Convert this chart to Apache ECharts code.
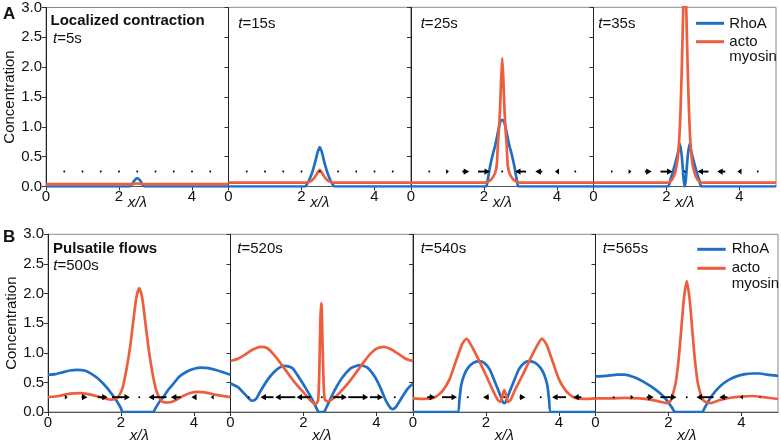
<!DOCTYPE html>
<html><head><meta charset="utf-8">
<script src="https://cdn.jsdelivr.net/npm/echarts@6/dist/echarts.min.js"></script>
<style>html,body{margin:0;padding:0;background:#fff}#c{width:781px;height:444px}</style>
</head><body><div id="c"></div>
<script>
// ---------- data ----------
const xTicks = [0, 2, 4];
const quiverX = [0.5, 1, 1.5, 2, 2.5, 3, 3.5, 4, 4.5];
const quiverY = 0.25;
const timeLabels = ['5s', '15s', '25s', '35s', '500s', '520s', '540s', '565s'];

// RhoA profiles (x/λ, concentration)
const rhoA_5 = [[0,0],[2.3,0],[2.36,0.04],[2.42,0.1],[2.5,0.14],[2.58,0.1],[2.64,0.04],[2.7,0],[5,0]];
const rhoA_15 = [[0,0],[2.1,0],[2.16,0.05],[2.22,0.12],[2.3,0.25],[2.38,0.42],[2.44,0.57],[2.5,0.66],[2.56,0.57],[2.62,0.42],[2.7,0.25],[2.78,0.12],[2.84,0.05],[2.9,0],[5,0]];
const rhoA_25 = [[0,0],[2.05,0],[2.1,0.1],[2.15,0.28],[2.2,0.43],[2.25,0.56],[2.3,0.67],[2.37,0.87],[2.42,1.02],[2.46,1.1],[2.5,1.11],[2.54,1.1],[2.58,1.02],[2.63,0.87],[2.7,0.67],[2.75,0.56],[2.8,0.43],[2.85,0.28],[2.9,0.1],[2.95,0],[5,0]];
const rhoA_35 = [[0,0],[2.04,0],[2.1,0.1],[2.2,0.3],[2.3,0.53],[2.37,0.71],[2.42,0.5],[2.47,0.12],[2.5,0],[2.53,0.12],[2.58,0.5],[2.63,0.71],[2.7,0.53],[2.8,0.3],[2.9,0.1],[2.96,0],[5,0]];
const rhoA_500 = [[0,0.63],[0.2,0.64],[0.4,0.67],[0.6,0.7],[0.8,0.71],[1.0,0.7],[1.2,0.64],[1.4,0.55],[1.6,0.42],[1.8,0.26],[1.9,0.17],[2.0,0.06],[2.04,0],[2.88,0],[2.94,0.06],[3.05,0.17],[3.17,0.26],[3.3,0.38],[3.44,0.48],[3.6,0.6],[3.8,0.68],[4.0,0.73],[4.2,0.75],[4.4,0.74],[4.6,0.71],[4.8,0.67],[5.0,0.63]];
const rhoA_520 = [[0,0.48],[0.2,0.42],[0.35,0.33],[0.5,0.23],[0.6,0.19],[0.7,0.22],[0.8,0.33],[1.0,0.53],[1.2,0.68],[1.4,0.77],[1.5,0.78],[1.7,0.74],[1.9,0.56],[2.1,0.36],[2.25,0.2],[2.35,0.07],[2.42,0],[2.56,0],[2.63,0.08],[2.75,0.24],[2.9,0.42],[3.05,0.57],[3.3,0.74],[3.55,0.79],[3.75,0.75],[3.95,0.6],[4.1,0.42],[4.25,0.2],[4.38,0.07],[4.45,0.05],[4.55,0.1],[4.7,0.25],[4.85,0.39],[5.0,0.48]];
const rhoA_540 = [[0,0],[1.22,0],[1.27,0.2],[1.32,0.45],[1.4,0.62],[1.5,0.74],[1.65,0.83],[1.82,0.86],[1.95,0.83],[2.1,0.72],[2.25,0.5],[2.38,0.3],[2.46,0.17],[2.5,0.15],[2.54,0.17],[2.62,0.3],[2.75,0.5],[2.9,0.72],[3.05,0.83],[3.18,0.86],[3.35,0.83],[3.5,0.74],[3.6,0.62],[3.68,0.45],[3.73,0.2],[3.78,0],[5,0]];
const rhoA_565 = [[0,0.6],[0.3,0.61],[0.6,0.63],[0.8,0.63],[1.0,0.6],[1.2,0.55],[1.4,0.48],[1.6,0.4],[1.8,0.3],[1.95,0.2],[2.1,0.07],[2.18,0],[2.92,0],[3.0,0.08],[3.15,0.24],[3.3,0.36],[3.5,0.48],[3.7,0.56],[3.9,0.61],[4.1,0.64],[4.3,0.65],[4.5,0.65],[4.7,0.63],[5.0,0.61]];

// actomyosin profiles
const myo_5 = [[0,0.04],[2.3,0.04],[2.5,0.05],[2.7,0.04],[5,0.04]];
const myo_15 = [[0,0.064],[2.1,0.064],[2.2,0.075],[2.3,0.11],[2.4,0.19],[2.46,0.25],[2.5,0.28],[2.54,0.25],[2.6,0.19],[2.7,0.11],[2.8,0.075],[2.9,0.064],[5,0.064]];
const myo_25 = [[0,0.064],[2.0,0.066],[2.1,0.08],[2.2,0.12],[2.3,0.22],[2.35,0.36],[2.38,0.7],[2.42,1.05],[2.45,1.45],[2.47,1.8],[2.5,2.15],[2.53,1.8],[2.55,1.45],[2.58,1.05],[2.62,0.7],[2.65,0.36],[2.7,0.22],[2.8,0.12],[2.9,0.08],[3.0,0.066],[5,0.064]];
const myo_35 = [[0,0.064],[2.0,0.066],[2.1,0.08],[2.2,0.17],[2.28,0.35],[2.34,0.7],[2.38,1.2],[2.42,2.0],[2.46,3.0],[2.5,3.7],[2.54,3.0],[2.58,2.0],[2.62,1.2],[2.66,0.7],[2.72,0.35],[2.8,0.17],[2.9,0.08],[3.0,0.066],[5,0.064]];
const myo_500 = [[0,0.25],[0.3,0.27],[0.6,0.31],[0.9,0.32],[1.2,0.29],[1.5,0.24],[1.7,0.21],[1.85,0.22],[1.95,0.28],[2.05,0.42],[2.15,0.72],[2.25,1.1],[2.35,1.6],[2.42,1.93],[2.5,2.09],[2.58,1.93],[2.65,1.6],[2.75,1.1],[2.85,0.7],[2.95,0.4],[3.05,0.24],[3.15,0.17],[3.3,0.16],[3.5,0.2],[3.7,0.27],[3.9,0.32],[4.1,0.34],[4.3,0.33],[4.6,0.29],[5.0,0.25]];
const myo_520 = [[0,0.86],[0.2,0.9],[0.4,0.97],[0.6,1.05],[0.82,1.1],[1.0,1.08],[1.2,0.96],[1.4,0.8],[1.6,0.63],[1.8,0.47],[2.0,0.33],[2.1,0.26],[2.2,0.19],[2.33,0.13],[2.4,0.2],[2.43,0.6],[2.46,1.5],[2.48,1.84],[2.5,1.75],[2.52,1.2],[2.55,0.5],[2.58,0.22],[2.65,0.18],[2.75,0.2],[2.9,0.27],[3.0,0.33],[3.2,0.47],[3.4,0.63],[3.6,0.8],[3.8,0.96],[4.0,1.07],[4.2,1.1],[4.4,1.06],[4.6,0.98],[4.8,0.9],[5.0,0.86]];
const myo_540 = [[0,0.23],[0.3,0.22],[0.6,0.25],[0.8,0.35],[1.0,0.55],[1.2,0.9],[1.35,1.15],[1.47,1.24],[1.6,1.12],[1.8,0.88],[2.0,0.62],[2.2,0.35],[2.33,0.2],[2.4,0.17],[2.45,0.28],[2.5,0.37],[2.55,0.28],[2.6,0.17],[2.67,0.2],[2.8,0.38],[3.0,0.62],[3.2,0.88],[3.4,1.12],[3.53,1.24],[3.65,1.15],[3.8,0.9],[4.0,0.55],[4.2,0.35],[4.4,0.25],[4.7,0.22],[5.0,0.23]];
const myo_565 = [[0,0.23],[0.4,0.23],[0.8,0.24],[1.2,0.23],[1.5,0.21],[1.8,0.17],[1.95,0.15],[2.05,0.18],[2.12,0.3],[2.2,0.5],[2.28,0.9],[2.35,1.4],[2.42,1.9],[2.5,2.21],[2.58,1.9],[2.65,1.4],[2.72,0.9],[2.8,0.5],[2.88,0.3],[2.95,0.2],[3.05,0.16],[3.15,0.15],[3.4,0.2],[3.7,0.24],[4.0,0.26],[4.3,0.27],[4.6,0.25],[5.0,0.22]];

// flow arrows: displacement (x/λ units) at quiverX
const flow_5 = [0,0,0,0,0,0,0,0,0];
const flow_15 = [0,0,0,0,0,0,0,0,0];
const flow_25 = [0,0.08,0.19,0.33,0,-0.30,-0.19,-0.11,0];
const flow_35 = [0,0.08,0.19,0.33,0,-0.30,-0.22,-0.11,0];
const flow_500 = [0.08,0.16,0.27,0.49,0,-0.49,-0.27,-0.14,-0.08];
const flow_520 = [0,-0.36,-0.55,-0.38,0,0.38,0.55,0.36,0];
const flow_540 = [0.22,0.41,0,-0.16,0,0.16,0,-0.38,-0.22];
const flow_565 = [0,0.08,0.19,0.44,0,-0.47,-0.22,-0.08,-0.03];

const rhoSets = [rhoA_5, rhoA_15, rhoA_25, rhoA_35, rhoA_500, rhoA_520, rhoA_540, rhoA_565];
const myoSets = [myo_5, myo_15, myo_25, myo_35, myo_500, myo_520, myo_540, myo_565];
const flowSets = [flow_5, flow_15, flow_25, flow_35, flow_500, flow_520, flow_540, flow_565];

// ---------- layout / style ----------
const BLUE = '#1f6fc6', ORANGE = '#ee5e3c';
const FONT = 'Liberation Sans, Arial, sans-serif';
const gridPos = [
  [46, 7.3, 182.5, 179.2], [228.5, 7.3, 182.5, 179.2], [411, 7.3, 182.5, 179.2], [593.5, 7.3, 182.5, 179.2],
  [48, 234.3, 182.5, 177.7], [230.5, 234.3, 182.5, 177.7], [413, 234.3, 182.5, 177.7], [595.5, 234.3, 182.5, 177.7]
];

function renderArrow(params, api) {
  const x = api.value(0), y = api.value(1), u = api.value(2);
  const p0 = api.coord([x - u / 2, y]);
  const p1 = api.coord([x + u / 2, y]);
  const len = Math.abs(p1[0] - p0[0]);
  const cy = p0[1];
  if (len < 1) {
    return {type: 'circle', shape: {cx: (p0[0] + p1[0]) / 2, cy: cy, r: 1}, style: {fill: '#000'}};
  }
  const dir = Math.sign(p1[0] - p0[0]);
  const hl = Math.min(5.5, len);
  const hw = 3.1 * Math.min(1, len / 5.5 + 0.25);
  const tip = p1[0], base = tip - dir * hl;
  const children = [];
  if (len > hl) children.push({type: 'line', shape: {x1: p0[0], y1: cy, x2: base + dir * 0.5, y2: cy}, style: {stroke: '#000', lineWidth: 1.9}});
  children.push({type: 'polygon', shape: {points: [[tip, cy], [base, cy - hw], [base, cy + hw]]}, style: {fill: '#000'}});
  return {type: 'group', children: children};
}

const grids = [], xAxes = [], yAxes = [], series = [];
gridPos.forEach((g, i) => {
  const rowB = i >= 4;
  grids.push({left: g[0], top: g[1], width: g[2], height: g[3], show: true, borderColor: '#8a8a8a', borderWidth: 1, backgroundColor: 'transparent'});
  xAxes.push({
    type: 'value', gridIndex: i, min: 0, max: 5, interval: 2,
    axisLine: {show: true, onZero: false, lineStyle: {color: '#555', width: 1}},
    axisTick: {show: true, length: 4, lineStyle: {color: '#333'}},
    axisLabel: {fontSize: 15, color: '#111', fontFamily: FONT, margin: 3, showMaxLabel: false,
      formatter: v => xTicks.indexOf(v) >= 0 ? String(v) : ''},
    splitLine: {show: false},
    name: 'x/λ', nameLocation: 'middle', nameGap: rowB ? 16 : 9, nameMoveOverlap: false,
    nameTextStyle: {fontStyle: 'italic', fontSize: 15, color: '#111', fontFamily: FONT}
  });
  yAxes.push({
    type: 'value', gridIndex: i, min: 0, max: 3, interval: 0.5,
    axisLine: {show: true, lineStyle: {color: '#222', width: 1}},
    axisTick: {show: true, length: 4, lineStyle: {color: '#333'}},
    axisLabel: {show: i % 4 === 0, fontSize: 15, color: '#111', fontFamily: FONT, margin: 4, formatter: v => v.toFixed(1)},
    splitLine: {show: false},
    name: i % 4 === 0 ? 'Concentration' : '', nameLocation: 'middle', nameGap: 29, nameMoveOverlap: false,
    nameTextStyle: {fontSize: 15, color: '#111', fontFamily: FONT}
  });
  series.push({type: 'line', name: 'RhoA', xAxisIndex: i, yAxisIndex: i, data: rhoSets[i], showSymbol: false, symbol: 'none',
    smooth: 0.2, lineStyle: {color: BLUE, width: 2.7}, itemStyle: {color: BLUE}, z: 3, animation: false});
  series.push({type: 'line', name: 'actomyosin', xAxisIndex: i, yAxisIndex: i, data: myoSets[i], showSymbol: false, symbol: 'none',
    smooth: 0.2, lineStyle: {color: ORANGE, width: 2.7}, itemStyle: {color: ORANGE}, z: 4, animation: false});
  series.push({type: 'custom', xAxisIndex: i, yAxisIndex: i, renderItem: renderArrow, z: 6, animation: false,
    data: quiverX.map((x, k) => [x, quiverY, flowSets[i][k]]), encode: {x: 0, y: 1}});
});

function tLabel(t, x, y) {
  return {type: 'text', style: {text: '{i|t}=' + t, x: x, y: y, verticalAlign: 'middle', fontSize: 15, fontFamily: FONT, fill: '#111',
    rich: {i: {fontStyle: 'italic', fontSize: 15, fontFamily: FONT, fill: '#111'}}}, z: 100};
}
function txt(s, x, y, extra) {
  return {type: 'text', style: Object.assign({text: s, x: x, y: y, verticalAlign: 'middle', fontSize: 15, fontFamily: FONT, fill: '#111'}, extra || {}), z: 100};
}
function seg(x1, x2, y, c) {
  return {type: 'line', shape: {x1: x1, y1: y, x2: x2, y2: y}, style: {stroke: c, lineWidth: 3}, z: 100};
}

const graphics = [
  txt('A', 3, 14, {fontSize: 17, fontWeight: 'bold'}),
  txt('B', 3, 237, {fontSize: 17, fontWeight: 'bold'}),
  txt('Localized contraction', 50.5, 21, {fontWeight: 'bold'}),
  txt('Pulsatile flows', 53, 248.5, {fontWeight: 'bold'}),
  tLabel(timeLabels[0], 53, 38.5),
  tLabel(timeLabels[1], 238.3, 23.5),
  tLabel(timeLabels[2], 420.7, 23.5),
  tLabel(timeLabels[3], 598.3, 23.5),
  tLabel(timeLabels[4], 53.3, 265.5),
  tLabel(timeLabels[5], 237.3, 248.5),
  tLabel(timeLabels[6], 420.7, 248.5),
  tLabel(timeLabels[7], 602.7, 248.5),
  // legends
  seg(696, 724, 23.3, BLUE), txt('RhoA', 729.3, 23.5),
  seg(696, 724, 41.7, ORANGE), txt('acto', 729.3, 41.7), txt('myosin', 729.3, 57.3),
  seg(697.3, 725.7, 249.3, BLUE), txt('RhoA', 731.7, 249.3),
  seg(697.3, 725.7, 268.3, ORANGE), txt('acto', 731.7, 268.3), txt('myosin', 731.7, 284)
];

const chart = echarts.init(document.getElementById('c'), null, {renderer: 'canvas'});
chart.setOption({
  animation: false,
  backgroundColor: '#fff',
  textStyle: {fontFamily: FONT},
  grid: grids, xAxis: xAxes, yAxis: yAxes, series: series,
  graphic: graphics
});
</script></body></html>
